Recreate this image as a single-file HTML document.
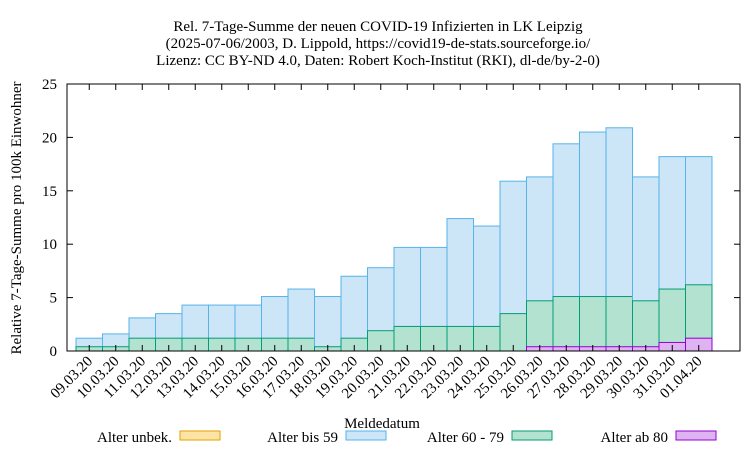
<!DOCTYPE html>
<html><head><meta charset="utf-8"><style>
body{margin:0;background:#fff;}
svg text{font-family:"Liberation Serif",serif;font-size:15px;fill:#000;}
</style></head><body>
<svg id="s" width="750" height="450" xmlns="http://www.w3.org/2000/svg">
<rect width="750" height="450" fill="#fff"/>
<text x="378" y="31" text-anchor="middle">Rel. 7-Tage-Summe der neuen COVID-19 Infizierten in LK Leipzig</text>
<text x="378" y="48" text-anchor="middle">(2025-07-06/2003, D. Lippold, https://covid19-de-stats.sourceforge.io/</text>
<text x="378" y="65" text-anchor="middle">Lizenz: CC BY-ND 4.0, Daten: Robert Koch-Institut (RKI), dl-de/by-2-0)</text>
<g id="bars"></g>
<rect x="67" y="84" width="673" height="267" fill="none" stroke="#000" stroke-width="1"/>
<g id="ax"></g>
<text transform="translate(21,218) rotate(-90)" text-anchor="middle">Relative 7-Tage-Summe pro 100k Einwohner</text>
<text x="382" y="428" text-anchor="middle">Meldedatum</text>
<text x="172" y="442" text-anchor="end">Alter unbek.</text>
<rect x="180" y="431" width="40" height="9" fill="#fde4a4" stroke="#e69f00"/>
<text x="338" y="442" text-anchor="end">Alter bis 59</text>
<rect x="346" y="431" width="40" height="9" fill="#cce5f7" stroke="#56b4e9"/>
<text x="504" y="442" text-anchor="end">Alter 60 - 79</text>
<rect x="512" y="431" width="40" height="9" fill="#b3e2d1" stroke="#009e73"/>
<text x="668" y="442" text-anchor="end">Alter ab 80</text>
<rect x="676" y="431" width="40" height="9" fill="#dfb3f2" stroke="#9400d3"/>
</svg>
<script>
var tot=[1.2,1.6,3.1,3.5,4.3,4.3,4.3,5.1,5.8,5.1,7.0,7.8,9.7,9.7,12.4,11.7,15.9,16.3,19.4,20.5,20.9,16.3,18.2,18.2];
var gr=[0.4,0.4,1.2,1.2,1.2,1.2,1.2,1.2,1.2,0.4,1.2,1.9,2.3,2.3,2.3,2.3,3.5,4.7,5.1,5.1,5.1,4.7,5.8,6.2];
var pu=[0,0,0,0,0,0,0,0,0,0,0,0,0,0,0,0,0,0.4,0.4,0.4,0.4,0.4,0.8,1.2];
var lab=["09.03.20","10.03.20","11.03.20","12.03.20","13.03.20","14.03.20","15.03.20","16.03.20","17.03.20","18.03.20","19.03.20","20.03.20","21.03.20","22.03.20","23.03.20","24.03.20","25.03.20","26.03.20","27.03.20","28.03.20","29.03.20","30.03.20","31.03.20","01.04.20"];
var ns="http://www.w3.org/2000/svg",B=document.getElementById("bars"),A=document.getElementById("ax");
function y(v){return 351-v*10.68;}
function r(g,x,v,f,s){var e=document.createElementNS(ns,"rect");e.setAttribute("x",x);e.setAttribute("y",y(v));e.setAttribute("width",26.5);e.setAttribute("height",v*10.68);e.setAttribute("fill",f);e.setAttribute("stroke",s);g.appendChild(e);}
var h="";
for(var i=0;i<24;i++){var x=76+i*26.5;
r(B,x,tot[i],"#cce5f7","#56b4e9");r(B,x,gr[i],"#b3e2d1","#009e73");if(pu[i]>0)r(B,x,pu[i],"#dfb3f2","#9400d3");
var cx=x+13.25;h+='<line x1="'+cx+'" y1="351" x2="'+cx+'" y2="345" stroke="#000"/><line x1="'+cx+'" y1="84" x2="'+cx+'" y2="90" stroke="#000"/>';
h+='<text transform="translate('+(cx+4)+',362) rotate(-45)" text-anchor="end">'+lab[i]+'</text>';}
for(var v=0;v<=25;v+=5){var yy=y(v);h+='<line x1="67" y1="'+yy+'" x2="73" y2="'+yy+'" stroke="#000"/><line x1="740" y1="'+yy+'" x2="734" y2="'+yy+'" stroke="#000"/><text x="57" y="'+(yy+5)+'" text-anchor="end">'+v+'</text>';}
A.innerHTML=h;
</script>
</body></html>
